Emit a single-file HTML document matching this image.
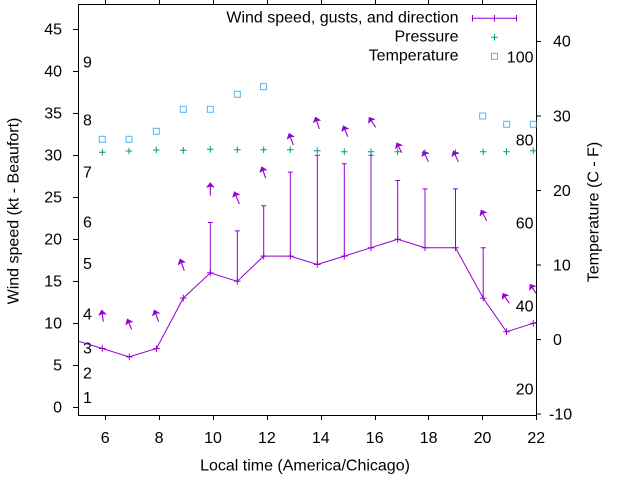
<!DOCTYPE html>
<html><head><meta charset="utf-8"><style>
html,body{margin:0;padding:0;background:#fff;}
svg{display:block;}
text{font-family:"Liberation Sans",Arial,sans-serif;font-size:16px;fill:#000;}
</style></head><body>
<svg width="640" height="480" viewBox="0 0 640 480" xmlns="http://www.w3.org/2000/svg">
<defs>
<clipPath id="pc"><rect x="78.5" y="4.5" width="458" height="411"/></clipPath>
<marker id="ah" markerUnits="userSpaceOnUse" markerWidth="7" markerHeight="9" refX="5" refY="4" orient="auto"><path d="M0,0 L5,4 L0,8 L1.2,4 Z" fill="#9400d3" stroke="#9400d3" stroke-width="0.5"/></marker>
</defs>
<rect width="640" height="480" fill="#fff"/>

<!-- border -->
<rect x="78.5" y="4.5" width="458" height="411" fill="none" stroke="#000" stroke-width="1"/>
<!-- ticks -->
<path stroke="#000" stroke-width="1" fill="none" d="
M73,407.5H78.5 M73,365.5H78.5 M73,323.5H78.5 M73,281.5H78.5 M73,239.5H78.5 M73,197.5H78.5 M73,155.5H78.5 M73,113.5H78.5 M73,71.5H78.5 M73,29.5H78.5
M105.5,415.5V420 M159.5,415.5V420 M213.5,415.5V420 M267.5,415.5V420 M321.5,415.5V420 M375.5,415.5V420 M428.5,415.5V420 M482.5,415.5V420 M536.5,415.5V420
M105.5,4.5V0 M159.5,4.5V0 M213.5,4.5V0 M267.5,4.5V0 M321.5,4.5V0 M375.5,4.5V0 M428.5,4.5V0 M482.5,4.5V0 M536.5,4.5V0
M536.5,414H541 M536.5,339.5H541 M536.5,265H541 M536.5,190.5H541 M536.5,116H541 M536.5,41.5H541
"/>

<!-- left tick labels -->
<g text-anchor="end">
<text x="62" y="412.3">0</text>
<text x="62" y="370.3">5</text>
<text x="62" y="328.3">10</text>
<text x="62" y="286.3">15</text>
<text x="62" y="244.3">20</text>
<text x="62" y="202.3">25</text>
<text x="62" y="160.3">30</text>
<text x="62" y="118.3">35</text>
<text x="62" y="76.3">40</text>
<text x="62" y="34.3">45</text>
</g>
<!-- bottom tick labels -->
<g text-anchor="middle">
<text x="105.2" y="443">6</text>
<text x="159.1" y="443">8</text>
<text x="213" y="443">10</text>
<text x="266.9" y="443">12</text>
<text x="320.8" y="443">14</text>
<text x="374.7" y="443">16</text>
<text x="428.6" y="443">18</text>
<text x="482.5" y="443">20</text>
<text x="536.3" y="443">22</text>
</g>
<!-- right tick labels -->
<g>
<text x="549" y="419.5">-10</text>
<text x="553" y="345">0</text>
<text x="553" y="270.5">10</text>
<text x="553" y="196">20</text>
<text x="553" y="121.5">30</text>
<text x="553" y="46.5">40</text>
</g>

<!-- axis labels -->
<text x="305" y="470.7" text-anchor="middle">Local time (America/Chicago)</text>
<text transform="translate(18.5,211) rotate(-90)" text-anchor="middle">Wind speed (kt - Beaufort)</text>
<text transform="translate(598.5,212) rotate(-90)" text-anchor="middle">Temperature (C - F)</text>

<!-- Beaufort labels -->
<g>
<text x="83" y="403">1</text>
<text x="83" y="378.3">2</text>
<text x="83" y="353.3">3</text>
<text x="83" y="319.3">4</text>
<text x="83" y="269">5</text>
<text x="83" y="227.3">6</text>
<text x="83" y="177.3">7</text>
<text x="83" y="125.7">8</text>
<text x="83" y="67.5">9</text>
</g>
<!-- Fahrenheit labels -->
<g text-anchor="end">
<text x="533.5" y="62.5">100</text>
<text x="533.5" y="145.5">80</text>
<text x="533.5" y="228.3">60</text>
<text x="533.5" y="311.5">40</text>
<text x="533.5" y="394.5">20</text>
</g>

<g clip-path="url(#pc)">
<!-- temperature squares -->
<g fill="none" stroke="#56b4e9" stroke-width="1">
<rect x="99.3" y="136.3" width="6" height="6"/>
<rect x="126" y="136.3" width="6" height="6"/>
<rect x="153.3" y="128.3" width="6" height="6"/>
<rect x="180.3" y="106.3" width="6" height="6"/>
<rect x="207.3" y="106.3" width="6" height="6"/>
<rect x="234.3" y="91.3" width="6" height="6"/>
<rect x="260.5" y="83.7" width="6" height="6"/>
<rect x="479.7" y="113" width="6" height="6"/>
<rect x="503.7" y="121.3" width="6" height="6"/>
<rect x="530.3" y="121.3" width="6" height="6"/>
</g>
<!-- pressure pluses -->
<path stroke="#009e73" stroke-width="1" fill="none" d="
M99,152.3h6.6M102.3,149v6.6
M125.7,151h6.6M129,147.7v6.6
M153,150h6.6M156.3,146.7v6.6
M180,150.3h6.6M183.3,147v6.6
M207,149.3h6.6M210.3,146v6.6
M234,149.7h6.6M237.3,146.4v6.6
M260.4,149.7h6.6M263.7,146.4v6.6
M287,149.7h6.6M290.3,146.4v6.6
M314,150.7h6.6M317.3,147.4v6.6
M341,151.7h6.6M344.3,148.4v6.6
M367.7,151.7h6.6M371,148.4v6.6
M394.4,151.7h6.6M397.7,148.4v6.6
M421.7,152.7h6.6M425,149.4v6.6
M452.2,152.7h6.6M455.5,149.4v6.6
M479.9,151.7h6.6M483.2,148.4v6.6
M503.2,151.7h6.6M506.5,148.4v6.6
M530,150.7h6.6M533.3,147.4v6.6
"/>

<!-- wind line -->
<polyline fill="none" stroke="#9400d3" stroke-width="1" points="74.85,340.1 102.3,348.5 129.3,356.9 156.5,348.5 183.3,298.1 210.3,272.9 237.3,281.3 263.7,256.1 290.3,256.1 317.3,264.5 344.3,256.1 371,247.7 397.7,239.3 425,247.7 455.5,247.7 483.2,298.1 506.5,331.7 533.3,323.3 560,315"/>
<!-- wind points -->
<path stroke="#9400d3" stroke-width="1" fill="none" d="
M99,348.5h6.6M102.3,345.2v6.6
M126,356.9h6.6M129.3,353.6v6.6
M153.2,348.5h6.6M156.5,345.2v6.6
M180,298.1h6.6M183.3,294.8v6.6
M207,272.9h6.6M210.3,269.6v6.6
M234,281.3h6.6M237.3,278v6.6
M260.4,256.1h6.6M263.7,252.8v6.6
M287,256.1h6.6M290.3,252.8v6.6
M314,264.5h6.6M317.3,261.2v6.6
M341,256.1h6.6M344.3,252.8v6.6
M367.7,247.7h6.6M371,244.4v6.6
M394.4,239.3h6.6M397.7,236v6.6
M421.7,247.7h6.6M425,244.4v6.6
M452.2,247.7h6.6M455.5,244.4v6.6
M479.9,298.1h6.6M483.2,294.8v6.6
M503.2,331.7h6.6M506.5,328.4v6.6
M530,323.3h6.6M533.3,320v6.6
"/>
<!-- gust error bars -->
<path stroke="#9400d3" stroke-width="1" fill="none" d="
M210.3,222.5V272.9M207.8,222.5h5
M237.3,230.9V281.3M234.8,230.9h5
M263.7,205.7V256.1M261.2,205.7h5
M290.3,172.1V256.1M287.8,172.1h5
M317.3,155.3V264.5M314.8,155.3h5
M344.3,163.7V256.1M341.8,163.7h5
M371,155.3V247.7M368.5,155.3h5
M397.7,180.5V239.3M395.2,180.5h5
M425,188.9V247.7M422.5,188.9h5
M455.5,188.9V247.7M453,188.9h5
M483.2,247.7V298.1M480.7,247.7h5
"/>
<!-- direction arrows -->
<g stroke="#9400d3" stroke-width="1.1" fill="none" marker-end="url(#ah)">
<line x1="103.3" y1="321.7" x2="101.7" y2="310"/>
<line x1="131.7" y1="329.3" x2="127.3" y2="319"/>
<line x1="158.7" y1="321.7" x2="154.3" y2="310"/>
<line x1="184.3" y1="270.7" x2="180" y2="259"/>
<line x1="210.3" y1="195.7" x2="210.3" y2="182.5"/>
<line x1="239.3" y1="204" x2="234.3" y2="191.7"/>
<line x1="265.7" y1="178.3" x2="261.7" y2="166.7"/>
<line x1="293.3" y1="145" x2="289" y2="133.3"/>
<line x1="319.3" y1="129" x2="315.5" y2="117"/>
<line x1="347.7" y1="136.7" x2="343.3" y2="125.7"/>
<line x1="375.7" y1="127.3" x2="369" y2="117.3"/>
<line x1="401.7" y1="152.7" x2="396.7" y2="142.7"/>
<line x1="428.3" y1="161.7" x2="423.3" y2="150.7"/>
<line x1="458.3" y1="161.7" x2="453.3" y2="150.7"/>
<line x1="486.7" y1="220.7" x2="481" y2="210"/>
<line x1="509.3" y1="303.3" x2="502.7" y2="293.3"/>
<line x1="536" y1="293.3" x2="530" y2="284.3"/>
</g>
</g>

<!-- legend -->
<g text-anchor="end">
<text x="458.5" y="22.7">Wind speed, gusts, and direction</text>
<text x="458.5" y="41.7">Pressure</text>
<text x="458.5" y="60.7">Temperature</text>
</g>
<path stroke="#9400d3" stroke-width="1" fill="none" d="M472.3,18.3H516.7 M472.5,15V21.5 M494.5,15V21.5 M516.5,15V21.5"/>
<path stroke="#009e73" stroke-width="1" fill="none" d="M491.2,37.3h6.6M494.5,34v6.6"/>
<rect x="491.5" y="53.3" width="6" height="6" fill="none" stroke="#56b4e9" stroke-width="1"/>
</svg>
</body></html>
